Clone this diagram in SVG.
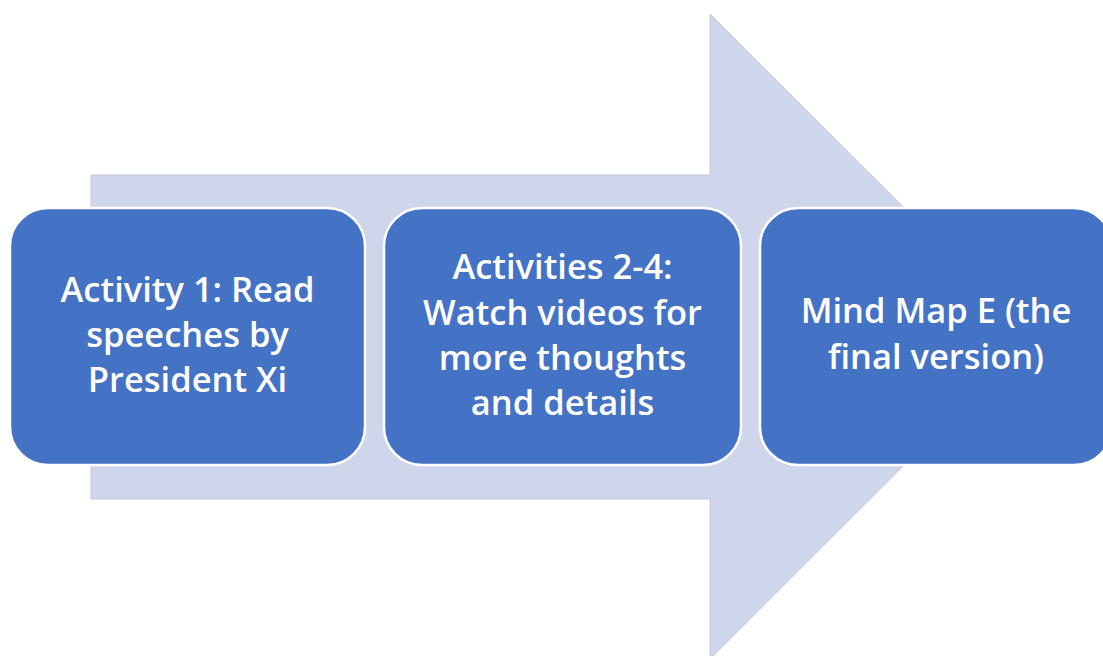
<svg xmlns="http://www.w3.org/2000/svg" width="1103" height="656" viewBox="0 0 1103 656">
<style>
.box{fill:#4472C4;stroke:#FFFFFF;stroke-width:2.5}
.lbl{fill:#FFFFFF;font-family:"Open Sans","Noto Sans","DejaVu Sans",sans-serif;font-size:34.5px;font-weight:600;text-anchor:middle}
</style>
<rect width="1103" height="656" fill="#FFFFFF"/>
<g id="arrow">
<polygon points="91,175 710,175 710,14 1033,336.5 710,659 710,499 91,499" fill="#CFD5EA" stroke="#C4C9D9" stroke-width="1"/>
</g>
<g id="connectors"></g>
<g id="node1">
<rect class="box" x="10" y="208" width="355" height="257" rx="38" ry="38"/>
<text class="lbl" x="187.5" y="302">Activity 1: Read</text>
<text class="lbl" x="187.5" y="347">speeches by</text>
<text class="lbl" x="187.5" y="392">President Xi</text>
</g>
<g id="node2">
<rect class="box" x="384" y="208" width="357" height="257" rx="38" ry="38"/>
<text class="lbl" x="562.5" y="279">Activities 2-4:</text>
<text class="lbl" x="562.5" y="325">Watch videos for</text>
<text class="lbl" x="562.5" y="370">more thoughts</text>
<text class="lbl" x="562.5" y="415">and details</text>
</g>
<g id="node3">
<rect class="box" x="760" y="208" width="352" height="257" rx="38" ry="38"/>
<text class="lbl" x="936" y="323">Mind Map E (the</text>
<text class="lbl" x="936" y="369">final version)</text>
</g>
</svg>
